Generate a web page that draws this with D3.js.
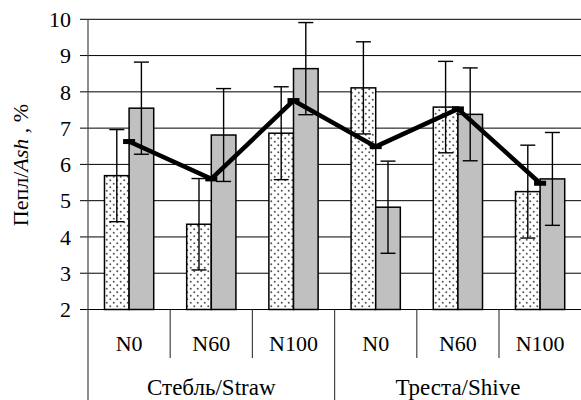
<!DOCTYPE html>
<html>
<head>
<meta charset="utf-8">
<script src="https://cdn.jsdelivr.net/npm/d3@7"></script>
<style>
  body { margin: 0; background: #fff; }
</style>
</head>
<body>
<div id="chart"></div>
<script>
var groups = ["Стебль/Straw", "Треста/Shive"];
var doses = ["N0", "N60", "N100"];
var dottedVals = [5.69, 4.35, 6.86, 8.11, 7.58, 5.25];
var dottedErr = [1.27, 1.26, 1.28, 1.27, 1.26, 1.28];
var grayVals = [7.55, 6.81, 8.64, 4.82, 7.38, 5.60];
var grayErr = [1.27, 1.28, 1.27, 1.27, 1.28, 1.28];
var meanVals = [6.63, 5.60, 7.76, 6.49, 7.53, 5.48];
var yTicks = [2, 3, 4, 5, 6, 7, 8, 9, 10];

var svgWidth = 581;
var svgHeight = 400;
var serif = "Liberation Serif";

var margin = { top: 19.3, right: 0, bottom: 90.5, left: 88 };
var plotBottom = svgHeight - margin.bottom;

// one slot per group/dose pair
var cats = [];
groups.forEach(function (g, gi) {
  doses.forEach(function (d, di) {
    cats.push({ id: gi + "-" + di, group: gi, label: d, i: cats.length });
  });
});

var svg = d3.select("#chart")
  .append("svg")
  .attr("width", svgWidth)
  .attr("height", svgHeight);

var defs = svg.append("defs");
var pat = defs.append("pattern")
  .attr("id", "dots")
  .attr("patternUnits", "userSpaceOnUse")
  .attr("width", 7)
  .attr("height", 7);
pat.append("rect").attr("width", 7).attr("height", 7).attr("fill", "#fff");
pat.append("circle").attr("cx", 1.75).attr("cy", 1.75).attr("r", 1).attr("fill", "#555");
pat.append("circle").attr("cx", 5.25).attr("cy", 5.25).attr("r", 1).attr("fill", "#555");

var x0 = d3.scaleBand()
  .domain(cats.map(function (c) { return c.id; }))
  .range([margin.left, 581.2])
  .paddingInner(0)
  .paddingOuter(0);

var x1 = d3.scaleBand()
  .domain(["dotted", "gray"])
  .range([0, x0.bandwidth()])
  .paddingInner(0)
  .paddingOuter(0.67);

var y = d3.scaleLinear()
  .domain([2, 10])
  .range([plotBottom, margin.top]);

// gridlines + y ticks
svg.append("g")
  .selectAll("line")
  .data(yTicks)
  .enter()
  .append("line")
  .attr("x1", margin.left - 8)
  .attr("x2", svgWidth)
  .attr("y1", function (d) { return y(d); })
  .attr("y2", function (d) { return y(d); })
  .attr("stroke", "#000")
  .attr("stroke-width", 1);

svg.append("g")
  .selectAll("text")
  .data(yTicks)
  .enter()
  .append("text")
  .attr("x", 71)
  .attr("y", function (d) { return y(d); })
  .attr("dy", "0.35em")
  .attr("text-anchor", "end")
  .style("font-family", serif)
  .style("font-size", "22px")
  .text(function (d) { return d; });

// bars
var barData = [];
cats.forEach(function (c) {
  barData.push({ cat: c.id, s: "dotted", v: dottedVals[c.i], e: dottedErr[c.i] });
  barData.push({ cat: c.id, s: "gray", v: grayVals[c.i], e: grayErr[c.i] });
});

svg.append("g")
  .selectAll("rect")
  .data(barData)
  .enter()
  .append("rect")
  .attr("x", function (d) { return x0(d.cat) + x1(d.s); })
  .attr("y", function (d) { return y(d.v); })
  .attr("width", x1.bandwidth())
  .attr("height", function (d) { return plotBottom - y(d.v); })
  .attr("fill", function (d) { return d.s === "dotted" ? "url(#dots)" : "#c0c0c0"; })
  .attr("stroke", "#000")
  .attr("stroke-width", 1.5);

// error bars
var errG = svg.append("g")
  .attr("stroke", "#000")
  .attr("stroke-width", 1.4);
var capW = 7.5;
barData.forEach(function (d) {
  var cx = x0(d.cat) + x1(d.s) + x1.bandwidth() / 2;
  errG.append("line")
    .attr("x1", cx).attr("x2", cx)
    .attr("y1", y(d.v + d.e)).attr("y2", y(d.v - d.e));
  errG.append("line")
    .attr("x1", cx - capW).attr("x2", cx + capW)
    .attr("y1", y(d.v + d.e)).attr("y2", y(d.v + d.e));
  errG.append("line")
    .attr("x1", cx - capW).attr("x2", cx + capW)
    .attr("y1", y(d.v - d.e)).attr("y2", y(d.v - d.e));
});

// mean line
var cx0 = function (c) { return x0(c.id) + x0.bandwidth() / 2; };
var line = d3.line()
  .x(function (c) { return cx0(c); })
  .y(function (c) { return y(meanVals[c.i]); });

svg.append("path")
  .datum(cats)
  .attr("d", line)
  .attr("fill", "none")
  .attr("stroke", "#000")
  .attr("stroke-width", 4.5)
  .attr("stroke-linejoin", "miter");

svg.append("g")
  .selectAll("rect")
  .data(cats)
  .enter()
  .append("rect")
  .attr("x", function (c) { return cx0(c) - 6; })
  .attr("y", function (c) { return y(meanVals[c.i]) - 2.5; })
  .attr("width", 12)
  .attr("height", 5)
  .attr("fill", "#000");

// axes
svg.append("line")
  .attr("x1", margin.left).attr("x2", margin.left)
  .attr("y1", margin.top).attr("y2", svgHeight)
  .attr("stroke", "#444").attr("stroke-width", 1.2);

svg.append("line")
  .attr("x1", margin.left).attr("x2", svgWidth)
  .attr("y1", plotBottom).attr("y2", plotBottom)
  .attr("stroke", "#000").attr("stroke-width", 1.2);

// category separators
svg.append("g")
  .selectAll("line")
  .data(cats.slice(1))
  .enter()
  .append("line")
  .attr("x1", function (c) { return x0(c.id); })
  .attr("x2", function (c) { return x0(c.id); })
  .attr("y1", plotBottom)
  .attr("y2", function (c) { return c.i % doses.length === 0 ? svgHeight : 358; })
  .attr("stroke", "#444")
  .attr("stroke-width", 1.2);

svg.append("g")
  .selectAll("text")
  .data(cats)
  .enter()
  .append("text")
  .attr("x", function (c) { return cx0(c); })
  .attr("y", 350.5)
  .attr("text-anchor", "middle")
  .style("font-family", serif)
  .style("font-size", "22px")
  .text(function (c) { return c.label; });

svg.append("g")
  .selectAll("text")
  .data(groups)
  .enter()
  .append("text")
  .attr("x", function (g, gi) {
    var a = x0(cats[gi * doses.length].id);
    var b = x0(cats[gi * doses.length + doses.length - 1].id) + x0.bandwidth();
    return (a + b) / 2;
  })
  .attr("y", 395)
  .attr("text-anchor", "middle")
  .style("font-family", serif)
  .style("font-size", "23px")
  .text(function (g) { return g; });

// y title
var title = svg.append("text")
  .attr("transform", "translate(28,165) rotate(-90)")
  .attr("text-anchor", "middle")
  .style("font-family", serif)
  .style("font-size", "22px");
title.append("tspan").text("Пепл/");
title.append("tspan").style("font-style", "italic").text("Ash");
title.append("tspan").text(" , %");
</script>
</body>
</html>
